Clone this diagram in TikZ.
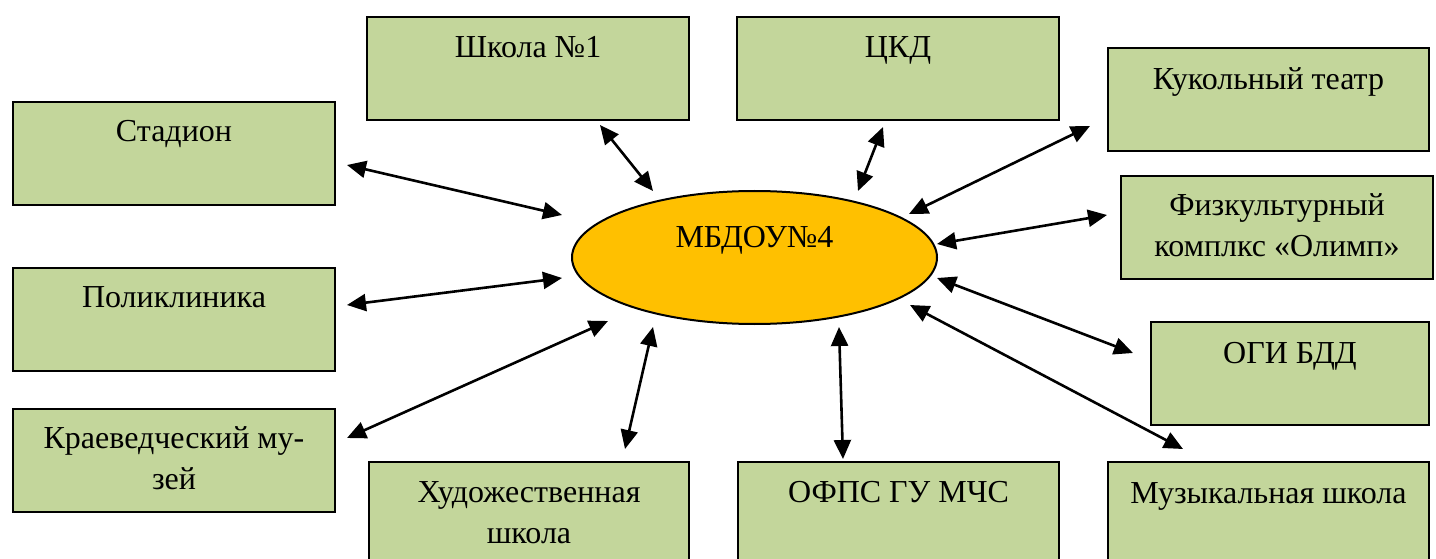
\documentclass[tikz,border=0pt]{standalone}
\usepackage{fontspec}
\setmainfont{Liberation Serif}
\usetikzlibrary{arrows.meta,shapes.geometric,positioning}
\definecolor{boxgreen}{HTML}{C3D69B}
\definecolor{ellgold}{HTML}{FFC000}
\tikzset{
  box/.style={draw=black, line width=2pt, fill=boxgreen, anchor=north west,
    inner sep=0pt, minimum height=103pt},
  lbl/.style={anchor=base, align=center, inner sep=0pt,
    font=\fontsize{32}{41}\selectfont},
  link/.style={line width=2.6pt, {Triangle[length=19pt,width=17pt]}-{Triangle[length=19pt,width=17pt]}},
}
\begin{document}
\begin{tikzpicture}[x=1pt,y=-1pt]
\useasboundingbox (0,0) rectangle (1436,559);
\clip (0,0) rectangle (1436,559);
% boxes
\node[box, minimum width=322pt] (b1) at (366,16) {};
\node[box, minimum width=322pt] (b2) at (736,16) {};
\node[box, minimum width=321pt] (b3) at (1107,47) {};
\node[box, minimum width=322pt] (b4) at (12,101) {};
\node[box, minimum width=312pt] (b5) at (1120,175) {};
\node[box, minimum width=322pt] (b6) at (12,267) {};
\node[box, minimum width=278pt] (b7) at (1150,321) {};
\node[box, minimum width=322pt] (b8) at (12,408) {};
\node[box, minimum width=320pt] (b9) at (368,461) {};
\node[box, minimum width=321pt] (b10) at (737,461) {};
\node[box, minimum width=321pt] (b11) at (1107,461) {};
% labels (two-line labels: base anchor sits on the last line)
\node[lbl] (t1) at ([yshift=-42pt]b1.north) {Школа №1};
\node[lbl] (t2) at ([yshift=-42pt]b2.north) {ЦКД};
\node[lbl] (t3) at ([yshift=-43pt]b3.north) {Кукольный театр};
\node[lbl] (t4) at ([yshift=-41pt]b4.north) {Стадион};
\node[lbl] (t5) at ([yshift=-81pt]b5.north) {Физкультурный\\комплкс «Олимп»};
\node[lbl] (t6) at ([yshift=-40pt]b6.north) {Поликлиника};
\node[lbl] (t7) at ([yshift=-42pt]b7.north) {ОГИ БДД};
\node[lbl] (t8) at ([yshift=-81pt]b8.north) {Краеведческий му-\\зей};
\node[lbl] (t9) at ([yshift=-82pt]b9.north) {Художественная\\школа};
\node[lbl] (t10) at ([yshift=-41pt]b10.north) {ОФПС ГУ МЧС};
\node[lbl] (t11) at ([yshift=-42pt]b11.north) {Музыкальная школа};
% centre
\node[ellipse, draw=black, line width=2pt, fill=ellgold, inner sep=0pt,
  minimum width=365pt, minimum height=133pt] (c) at (754.5,257.5) {};
\node[lbl] (ct) at ([yshift=10pt]c.center) {МБДОУ№4};
% arrow end points
\coordinate (a1) at (347,165);  \coordinate (e1) at (562,215);
\coordinate (a2) at (600,125);  \coordinate (e2) at (653,191);
\coordinate (a3) at (883,127);  \coordinate (e3) at (858,191);
\coordinate (a4) at (1090,126); \coordinate (e4) at (909,214);
\coordinate (a5) at (1107,215); \coordinate (e5) at (937,244);
\coordinate (a6) at (347,305);  \coordinate (e6) at (562,278);
\coordinate (a7) at (1133,353); \coordinate (e7) at (937,278);
\coordinate (a8) at (347,438);  \coordinate (e8) at (608,321);
\coordinate (a9) at (625,449);  \coordinate (e9) at (653,327);
\coordinate (a10) at (843,459); \coordinate (e10) at (839,327);
\coordinate (a11) at (1183,449);\coordinate (e11) at (910,305);
\foreach \i in {1,...,11} {\draw[link] (a\i) -- (e\i);}
\end{tikzpicture}
\end{document}
